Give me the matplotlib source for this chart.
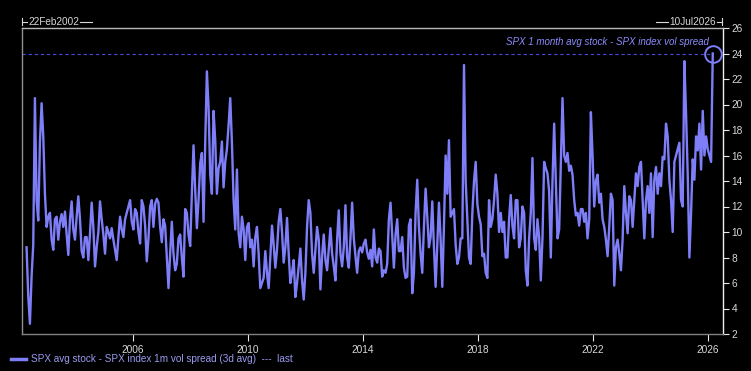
import matplotlib
matplotlib.use('Agg')
import matplotlib.pyplot as plt
from matplotlib.lines import Line2D
import pandas as pd

spread_2002_2006 = [8.8, 5.0, 2.8, 6.5, 9.0, 20.5, 12.5, 10.9, 17.0, 20.1,
                    17.5, 13.0, 10.4, 11.2, 11.5, 9.4, 8.6, 11.0, 11.2, 9.4,
                    10.8, 11.4, 10.4, 11.6, 9.8, 8.2, 11.0, 12.4, 10.2, 9.4,
                    11.2, 12.8, 11.0, 8.5, 8.0, 9.6, 9.6, 7.8, 9.9, 12.3,
                    10.4, 7.3, 8.8, 10.0, 12.4, 11.0, 9.8, 8.3, 10.4, 10.0,
                    9.5, 10.3, 9.4, 8.6, 7.8, 9.6, 11.2, 10.2, 9.6, 11.0,
                    11.5, 12.0, 12.5, 10.8, 10.2, 11.8]
spread_2006_2010 = [11.5, 10.0, 9.1, 12.5, 12.0, 10.5, 7.7, 9.5, 12.0, 12.5,
                    10.4, 12.2, 12.6, 12.3, 10.4, 9.2, 11.0, 10.5, 8.0, 5.6,
                    8.3, 10.8, 8.3, 7.0, 7.5, 9.5, 9.8, 8.0, 6.5, 11.8,
                    11.5, 9.8, 8.9, 13.0, 16.8, 13.3, 10.3, 12.5, 15.4, 16.2,
                    10.8, 17.0, 22.6, 19.8, 14.5, 13.0, 19.5, 17.2, 13.0, 15.0,
                    15.5, 17.1, 13.5, 15.5, 16.5, 18.4, 20.5, 17.0, 12.5, 10.2,
                    14.9, 9.9, 8.8, 11.2, 10.2, 7.8, 10.4, 10.7, 8.8]
spread_2010_2014 = [9.4, 7.3, 9.6, 10.4, 8.3, 5.6, 6.0, 6.4, 8.5, 6.8,
                    5.6, 8.0, 10.5, 9.0, 7.2, 8.6, 10.8, 11.8, 10.0, 7.6,
                    8.8, 11.1, 8.3, 6.0, 6.8, 7.8, 4.9, 6.0, 7.3, 8.7,
                    6.2, 4.7, 6.8, 10.4, 12.5, 11.5, 8.3, 6.8, 8.6, 10.4,
                    9.4, 5.5, 8.1, 9.8, 7.8, 7.0, 8.6, 10.3, 8.3, 7.3,
                    6.2, 9.4, 11.7, 8.3, 7.3, 8.8, 12.1, 8.0, 7.2, 9.5,
                    12.3, 9.5, 8.1, 6.8, 8.5, 8.8, 8.4, 9.1, 9.4]
spread_2014_2018 = [8.4, 7.9, 8.6, 7.3, 10.2, 8.0, 7.6, 8.7, 8.5, 6.5,
                    7.0, 6.8, 7.5, 11.0, 12.3, 9.8, 7.2, 9.8, 11.0, 8.5,
                    8.5, 9.6, 7.2, 6.4, 6.5, 10.5, 11.0, 5.2, 6.8, 11.5,
                    14.1, 10.4, 8.3, 6.8, 10.4, 13.4, 11.2, 8.8, 9.6, 12.4,
                    8.8, 5.7, 9.1, 12.3, 9.4, 5.7, 10.5, 16.0, 13.0, 17.2,
                    11.2, 11.5, 11.8, 9.0, 7.5, 8.0, 9.5, 9.5, 23.1, 14.0,
                    11.0, 8.0, 7.5, 11.5, 14.0, 15.5, 12.2, 11.2, 10.6]
spread_2018_2022 = [8.1, 8.3, 6.8, 6.4, 12.5, 10.4, 11.0, 12.5, 14.5, 13.0,
                    10.0, 11.5, 10.0, 10.8, 8.0, 8.0, 11.0, 12.9, 10.5, 9.5,
                    12.5, 12.5, 8.8, 9.5, 12.0, 11.5, 7.0, 5.8, 9.5, 11.5,
                    15.8, 9.5, 8.6, 11.0, 9.6, 6.2, 9.5, 15.5, 15.0, 14.6,
                    13.2, 8.0, 14.0, 18.5, 14.0, 9.5, 10.2, 15.5, 20.5, 16.0,
                    15.5, 16.2, 14.8, 15.2, 14.5, 12.5, 11.3, 11.5, 10.5, 11.8,
                    11.8, 10.8, 11.5, 9.5, 11.0, 19.4, 16.0, 12.0, 14.0, 14.5,
                    12.3]
spread_2022_2026 = [13.0, 11.0, 10.4, 9.4, 8.1, 10.4, 13.0, 12.5, 5.8, 8.8,
                    9.4, 8.3, 7.0, 9.4, 13.6, 11.5, 9.9, 12.8, 12.5, 10.4,
                    12.5, 14.6, 13.6, 15.1, 15.5, 12.5, 9.5, 12.5, 13.6, 11.5,
                    14.6, 9.6, 14.1, 15.1, 13.0, 14.6, 13.6, 15.9, 15.7, 18.5,
                    17.5, 14.1, 12.5, 10.0, 15.5, 16.0, 16.5, 17.0, 12.5, 12.0,
                    23.4, 19.3, 14.5, 8.0, 11.5, 15.7, 14.1, 17.5, 16.4, 18.5,
                    14.9, 19.5, 16.0, 17.5, 16.5, 16.0, 15.5, 24.0]

spread = (spread_2002_2006 + spread_2006_2010 + spread_2010_2014 +
          spread_2014_2018 + spread_2018_2022 + spread_2022_2026)
dates = pd.date_range('2002-04-21', '2026-03-02', periods=len(spread))

years = [2006, 2010, 2014, 2018, 2022, 2026]
levels = list(range(2, 27, 2))
start_label = '22Feb2002'
end_label = '10Jul2026'
note = 'SPX 1 month avg stock - SPX index vol spread'
legend_label = 'SPX avg stock - SPX index 1m vol spread (3d avg)  ---  last'

plt.rcParams['font.family'] = ['Liberation Sans', 'DejaVu Sans']

W, H = 751, 371
line_col = '#7e7ef8'
txt_col = '#d8d8d8'


def fx(px):
    return px / W


def fy(py):
    return 1 - py / H


fig = plt.figure(figsize=(W / 100, H / 100), dpi=100, facecolor='black')
ax = fig.add_axes([fx(22), fy(334), 701 / W, 306 / H])
ax.set_facecolor('black')

x0 = pd.Timestamp(start_label)
x1 = pd.Timestamp(end_label)

ax.plot(dates, spread, color=line_col, lw=1.7, zorder=3)
# last value: dashed level + ring
ax.hlines(spread[-1], x0, dates[-1], colors='#4a4ae0', lw=0.8,
          linestyles=(0, (3, 2.5)), zorder=2)
ax.plot(dates[-1], spread[-1], 'o', ms=12, mfc='none', mec=line_col, mew=1.4, zorder=4)
ax.annotate(note, (dates[-1], spread[-1]), xytext=(-2.5, 8), textcoords='offset points',
            ha='right', va='center', style='italic', fontsize=7, color='#8c8cff')

ax.set_xlim(x0, x1)
ax.set_ylim(2, 26)
ax.yaxis.tick_right()
ax.set_yticks(levels)
ax.set_xticks([pd.Timestamp(f'{y}-01-01') for y in years])
ax.set_xticklabels([str(y) for y in years])
ax.tick_params(axis='both', colors='#e8e8e8', labelcolor=txt_col, labelsize=7.3, width=0.8)
ax.tick_params(axis='x', length=5, pad=3)
ax.tick_params(axis='y', length=4, pad=2)

ax.spines['top'].set_color('#b8b8b8')
ax.spines['left'].set_color('#909090')
ax.spines['bottom'].set_color('#808080')
ax.spines['right'].set_color('#f0f0f0')
for s in ax.spines.values():
    s.set_linewidth(1)

# date range marks above the frame
ty = 21.7
fig.text(fx(28), fy(ty), start_label, color=txt_col, fontsize=7.2, va='center', ha='left')
fig.text(fx(716), fy(ty), end_label, color=txt_col, fontsize=7.2, va='center', ha='right')
for xs, ys in [([22, 22], [18, 25]), ([22, 27], [ty, ty]), ([80, 92], [ty, ty]),
               ([656, 668], [ty, ty]), ([717, 722], [ty, ty]), ([722, 722], [18, 25])]:
    fig.add_artist(Line2D([fx(v) for v in xs], [fy(v) for v in ys], color=txt_col, lw=0.8))

# legend at the bottom
fig.add_artist(Line2D([fx(11), fx(26)], [fy(359), fy(359)], color=line_col, lw=2.5))
fig.text(fx(30.5), fy(359), legend_label, color='#9a9af0', fontsize=7.2, va='center', ha='left')

fig.savefig('out.png', dpi=100, facecolor='black')
